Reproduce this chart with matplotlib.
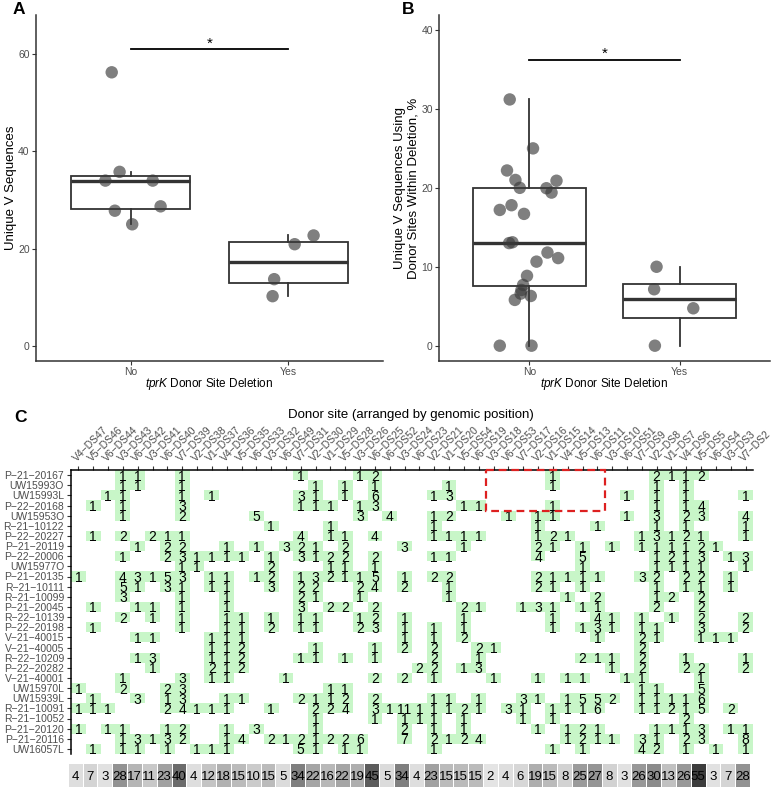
import numpy as np
import matplotlib.pyplot as plt
from matplotlib.patches import Rectangle
from matplotlib.colors import ListedColormap, LinearSegmentedColormap

plt.rcParams['font.family'] = ['Liberation Sans', 'DejaVu Sans']
plt.rcParams['mathtext.fontset'] = 'custom'
plt.rcParams['mathtext.it'] = 'Liberation Sans:italic'
plt.rcParams['mathtext.rm'] = 'Liberation Sans'

# ---- panel A / B data (points as plotted, x = jitter offset) ----
a_no = [56.3, 35.8, 34.0, 34.0, 27.8, 28.7, 25.0]
a_no_jit = [-0.12, -0.07, -0.16, 0.14, -0.10, 0.19, 0.01]
a_yes = [22.7, 20.9, 13.7, 10.2]
a_yes_jit = [0.16, 0.04, -0.09, -0.10]

b_no = [31.2, 25.0, 22.2, 21.0, 20.0, 20.9, 19.95, 19.4, 17.2, 17.8, 16.7, 13.0,
        13.1, 11.8, 11.1, 10.65, 8.85, 7.7, 7.06, 6.6, 6.3, 5.8, 0.0, 0.0]
b_no_jit = [-0.13, 0.025, -0.148, -0.092, -0.063, 0.181, 0.114, 0.148, -0.196, -0.118,
            -0.035, -0.134, -0.112, 0.121, 0.192, 0.048, -0.015, -0.041, -0.052, -0.057,
            0.01, -0.096, -0.196, 0.015]
b_yes = [10.0, 7.15, 4.74, 0.0]
b_yes_jit = [-0.154, -0.17, 0.09, -0.165]

groups = ["No", "Yes"]

# ---- panel C data ----
site_labels = ["V4-DS47", "V5-DS46", "V6-DS44", "V3-DS43", "V6-DS42", "V3-DS41", "V6-DS40",
               "V7-DS39", "V2-DS38", "V1-DS37", "V4-DS36", "V5-DS35", "V6-DS33", "V3-DS32",
               "V6-DS49", "V7-DS31", "V2-DS30", "V1-DS29", "V5-DS28", "V3-DS26", "V6-DS25",
               "V6-DS52", "V3-DS24", "V6-DS23", "V2-DS21", "V1-DS20", "V5-DS54", "V6-DS19",
               "V3-DS18", "V6-DS53", "V7-DS17", "V2-DS16", "V1-DS15", "V4-DS14", "V5-DS13",
               "V6-DS11", "V3-DS10", "V6-DS51", "V7-DS9", "V2-DS8", "V1-DS7", "V4-DS6",
               "V5-DS5", "V6-DS4", "V3-DS3", "V7-DS2"]

site_totals = [4, 7, 3, 28, 17, 11, 23, 40, 4, 12, 18, 15, 10, 15, 5, 34, 22, 16, 22, 19,
               45, 5, 34, 4, 23, 15, 15, 15, 2, 4, 6, 19, 15, 8, 25, 27, 8, 3, 26, 30,
               13, 26, 55, 3, 7, 28]

samples = ["P-21-20167", "UW15993O", "UW15993L", "P-22-20168", "UW15953O", "R-21-10122",
           "P-22-20227", "P-21-20119", "P-22-20006", "UW15977O", "P-21-20135", "R-21-10111",
           "R-21-10099", "P-21-20045", "R-22-10139", "P-22-20198", "V-21-40015", "V-21-40005",
           "R-22-10209", "P-22-20282", "V-21-40001", "UW15970L", "UW15939L", "R-21-10091",
           "R-21-10052", "P-21-20120", "P-21-20116", "UW16057L"]

# counts per sample: {donor site column (1-based): count}
cells = {
    "P-21-20167": {4: 1, 5: 1, 8: 1, 16: 1, 20: 1, 21: 2, 33: 1, 40: 2, 41: 1, 42: 1, 43: 2},
    "UW15993O": {4: 1, 5: 1, 8: 1, 17: 1, 19: 1, 21: 1, 26: 1, 33: 1, 40: 1, 42: 1},
    "UW15993L": {3: 1, 4: 1, 8: 1, 10: 1, 16: 3, 17: 1, 19: 1, 21: 6, 25: 1, 26: 3, 38: 1,
                 40: 1, 42: 1, 46: 1},
    "P-22-20168": {2: 1, 4: 1, 8: 3, 16: 1, 17: 1, 18: 1, 20: 1, 21: 3, 27: 1, 28: 1, 33: 1,
                   40: 1, 42: 1, 43: 4},
    "UW15953O": {4: 1, 8: 2, 13: 5, 20: 3, 22: 4, 25: 1, 26: 2, 30: 1, 32: 1, 33: 1, 38: 1,
                 40: 3, 42: 2, 43: 3, 46: 4},
    "R-21-10122": {14: 1, 18: 1, 25: 1, 32: 1, 36: 1, 40: 1, 42: 1, 46: 1},
    "P-22-20227": {2: 1, 4: 2, 6: 2, 7: 1, 8: 1, 16: 4, 18: 1, 19: 1, 21: 4, 25: 1, 26: 1,
                   27: 1, 28: 1, 32: 1, 33: 2, 34: 1, 39: 1, 40: 3, 41: 1, 42: 2, 43: 1, 46: 1},
    "P-21-20119": {5: 1, 7: 2, 8: 2, 11: 1, 13: 1, 15: 3, 16: 2, 17: 1, 19: 2, 23: 3, 27: 1,
                   32: 2, 33: 1, 35: 1, 37: 1, 39: 1, 40: 1, 41: 1, 42: 1, 43: 2, 44: 1},
    "P-22-20006": {4: 1, 7: 2, 8: 3, 9: 1, 10: 1, 11: 1, 12: 1, 14: 1, 16: 3, 17: 1, 18: 2,
                   19: 2, 21: 2, 25: 1, 26: 1, 32: 4, 35: 5, 40: 1, 41: 2, 42: 1, 43: 3, 45: 1,
                   46: 3},
    "UW15977O": {8: 1, 9: 1, 14: 2, 18: 1, 19: 1, 21: 1, 35: 1, 40: 1, 41: 1, 42: 1, 43: 1,
                 46: 1},
    "P-21-20135": {1: 1, 4: 4, 5: 3, 6: 1, 7: 5, 8: 3, 10: 1, 11: 1, 13: 1, 14: 2, 16: 1,
                   17: 3, 18: 2, 19: 1, 20: 1, 21: 5, 23: 1, 25: 2, 26: 2, 32: 2, 33: 1, 34: 1,
                   35: 1, 36: 1, 39: 3, 40: 2, 42: 2, 43: 2, 45: 1},
    "R-21-10111": {4: 5, 5: 1, 7: 3, 8: 1, 10: 1, 11: 1, 14: 3, 16: 2, 17: 2, 20: 2, 21: 4,
                   23: 2, 26: 1, 32: 2, 33: 1, 35: 1, 40: 1, 42: 1, 43: 1, 45: 1},
    "R-21-10099": {4: 3, 8: 1, 11: 1, 16: 2, 17: 1, 20: 1, 26: 1, 34: 1, 36: 2, 40: 1, 41: 2,
                   43: 2},
    "P-21-20045": {2: 1, 5: 1, 6: 1, 8: 1, 11: 1, 16: 3, 18: 2, 19: 2, 21: 2, 27: 2, 28: 1,
                   31: 1, 32: 3, 33: 1, 35: 1, 36: 1, 40: 2, 43: 2},
    "R-22-10139": {4: 2, 6: 1, 8: 1, 11: 1, 12: 1, 14: 1, 16: 1, 17: 1, 20: 1, 21: 2, 23: 1,
                   27: 1, 33: 1, 36: 4, 37: 1, 39: 1, 41: 1, 43: 2, 46: 2},
    "P-22-20198": {2: 1, 8: 1, 11: 1, 12: 1, 14: 2, 16: 1, 17: 1, 20: 2, 21: 3, 23: 1, 25: 1,
                   27: 1, 33: 1, 35: 1, 36: 3, 37: 1, 39: 1, 40: 1, 43: 3, 46: 2},
    "V-21-40015": {5: 1, 6: 1, 10: 1, 11: 1, 12: 1, 23: 1, 25: 1, 27: 2, 36: 1, 39: 2, 40: 1,
                   43: 1, 44: 1, 45: 1},
    "V-21-40005": {10: 1, 11: 1, 12: 2, 17: 1, 21: 1, 23: 2, 25: 2, 28: 2, 29: 1, 39: 2},
    "R-22-10209": {5: 1, 6: 3, 10: 1, 11: 1, 12: 2, 16: 1, 17: 1, 19: 1, 21: 1, 25: 2, 28: 1,
                   35: 2, 36: 1, 37: 1, 39: 2, 42: 1, 46: 1},
    "P-22-20282": {6: 1, 10: 2, 11: 1, 12: 2, 24: 2, 25: 2, 27: 1, 28: 3, 37: 1, 39: 2, 42: 2,
                   43: 2, 46: 2},
    "V-21-40001": {4: 1, 8: 3, 10: 1, 11: 1, 15: 1, 21: 2, 23: 2, 25: 1, 29: 1, 32: 1, 34: 1,
                   35: 1, 38: 1, 39: 1, 43: 1},
    "UW15970L": {1: 1, 4: 2, 7: 2, 8: 3, 18: 1, 19: 1, 39: 1, 40: 1, 43: 5},
    "UW15939L": {2: 1, 5: 3, 7: 1, 8: 3, 11: 1, 12: 1, 16: 2, 17: 1, 18: 1, 19: 2, 21: 2,
                 25: 1, 26: 1, 28: 1, 31: 3, 32: 1, 34: 1, 35: 5, 36: 5, 37: 2, 39: 1, 40: 1,
                 41: 1, 42: 1, 43: 6},
    "R-21-10091": {1: 1, 2: 1, 3: 1, 7: 2, 8: 4, 9: 1, 10: 1, 11: 1, 14: 1, 17: 2, 18: 2,
                   19: 4, 21: 3, 22: 1, 23: 11, 24: 1, 25: 1, 26: 1, 27: 2, 28: 1, 30: 3,
                   31: 1, 33: 1, 34: 1, 35: 1, 36: 6, 39: 1, 40: 1, 41: 2, 42: 1, 43: 5, 45: 2},
    "R-21-10052": {17: 1, 21: 1, 23: 1, 24: 1, 25: 1, 27: 1, 31: 1, 33: 1, 42: 2},
    "P-21-20120": {1: 1, 3: 1, 4: 1, 7: 1, 8: 2, 11: 1, 13: 3, 17: 1, 23: 2, 25: 1, 27: 1,
                   32: 1, 34: 1, 35: 2, 36: 1, 40: 1, 41: 1, 42: 1, 43: 3, 45: 1, 46: 1},
    "P-21-20116": {4: 1, 5: 3, 6: 1, 7: 3, 8: 2, 11: 1, 12: 4, 14: 2, 15: 1, 16: 2, 17: 1,
                   18: 2, 19: 2, 20: 6, 23: 7, 25: 2, 26: 1, 27: 2, 28: 4, 34: 1, 35: 2, 36: 1,
                   37: 1, 39: 3, 40: 1, 42: 2, 43: 3, 46: 8},
    "UW16057L": {2: 1, 4: 1, 5: 1, 7: 1, 9: 1, 10: 1, 11: 1, 16: 5, 17: 1, 19: 1, 20: 1,
                 25: 1, 33: 1, 35: 1, 39: 4, 40: 2, 42: 1, 44: 1, 46: 1},
}

W, H = 780, 789
fig = plt.figure(figsize=(W / 100, H / 100), dpi=100)


def px(l, t, r, b):
    return [l / W, 1 - b / H, (r - l) / W, (b - t) / H]


tick_grey = "#4d4d4d"
line_col = "#333333"


def box_panel(ax, vals, jits, ylim, yticks, ylabel, sig_y, ylab_x):
    ax.boxplot(vals, positions=[1, 2], widths=0.75, showfliers=False, showcaps=False,
               patch_artist=True,
               boxprops=dict(facecolor="white", edgecolor=line_col, linewidth=1.3),
               whiskerprops=dict(color=line_col, linewidth=1.3),
               medianprops=dict(color=line_col, linewidth=2.4))
    for k, (v, j) in enumerate(zip(vals, jits)):
        ax.scatter(np.array(j) + k + 1, v, s=80, color="#3a3a3a", alpha=0.65,
                   edgecolors="none", zorder=5)
    ax.plot([1, 2], [sig_y, sig_y], color="black", lw=1.3)
    ax.text(1.5, sig_y + 0.005 * (ylim[1] - ylim[0]), "*", ha="center", va="baseline",
            fontsize=11)
    ax.set_xlim(0.4, 2.6)
    ax.set_ylim(*ylim)
    ax.set_yticks(yticks)
    ax.set_xticks([1, 2])
    ax.set_xticklabels(groups)
    for s in ["top", "right"]:
        ax.spines[s].set_visible(False)
    for s in ["left", "bottom"]:
        ax.spines[s].set_color(line_col)
        ax.spines[s].set_linewidth(1.1)
    ax.tick_params(colors=line_col, labelcolor=tick_grey, labelsize=7.5, length=3, width=0.8,
                   pad=1.5)
    ax.set_xlabel(r"$\it{tprK}$ Donor Site Deletion", fontsize=8.5)
    ax.xaxis.label.set_verticalalignment("center")
    ax.xaxis.set_label_coords(0.5, -0.066)
    ax.set_ylabel(ylabel, fontsize=9.5)
    ax.yaxis.label.set_verticalalignment("center")
    ax.yaxis.set_label_coords(ylab_x, 0.5)


axA = fig.add_axes(px(36, 15, 383, 361))
box_panel(axA, [a_no, a_yes], [a_no_jit, a_yes_jit], (-3.15, 68.1), [0, 20, 40, 60],
          "Unique V Sequences", 61.0, -0.072)

axB = fig.add_axes(px(439, 15, 770, 361))
box_panel(axB, [b_no, b_yes], [b_no_jit, b_yes_jit], (-1.94, 41.9), [0, 10, 20, 30, 40],
          "Unique V Sequences Using\nDonor Sites Within Deletion, %", 36.2, -0.097)

fig.text(13 / W, 1 - 10 / H, "A", fontsize=12.5, fontweight="bold", va="center")
fig.text(402 / W, 1 - 10 / H, "B", fontsize=12.5, fontweight="bold", va="center")
fig.text(14 / W, 1 - 418 / H, "C", fontsize=12.5, fontweight="bold", va="center")
fig.text(411 / W, 1 - 415 / H, "Donor site (arranged by genomic position)", fontsize=9.5,
         ha="center", va="center")

# ---- heatmap ----
mat = np.zeros((len(samples), len(site_labels)))
for i, s in enumerate(samples):
    for c, v in cells[s].items():
        mat[i, c - 1] = v

axC = fig.add_axes(px(71, 470, 753, 754))
axC.pcolormesh(np.arange(len(site_labels) + 1) - 0.5, np.arange(len(samples) + 1) - 0.5,
               np.ma.masked_equal(mat, 0), cmap=ListedColormap(["#c8f6c8"]), shading="flat")
for i, j in zip(*np.nonzero(mat)):
    axC.text(j, i, str(int(mat[i, j])), ha="center", va="center_baseline", fontsize=10)
axC.set_xlim(-0.5, len(site_labels) - 0.5)
axC.set_ylim(len(samples) - 0.5, -0.5)
axC.xaxis.tick_top()
axC.set_xticks(range(len(site_labels)))
axC.set_xticklabels([s.replace("-", "\u2212") for s in site_labels], rotation=45,
                    ha="left", va="bottom", rotation_mode="anchor")
axC.set_yticks(range(len(samples)))
axC.set_yticklabels([s.replace("-", "\u2212") for s in samples])
axC.tick_params(colors=line_col, labelcolor=tick_grey, labelsize=7.5, length=3, width=0.8,
                pad=2)
for s in ["bottom", "right"]:
    axC.spines[s].set_visible(False)
for s in ["top", "left"]:
    axC.spines[s].set_color("black")
    axC.spines[s].set_linewidth(1.1)

# deleted region box
axC.add_patch(Rectangle((27.5, -0.5), 8, 4, fill=False, edgecolor="#dd2020", lw=1.6,
                        ls=(0, (3.5, 2.2)), clip_on=False, zorder=6))

# ---- totals row ----
axS = fig.add_axes(px(67.7, 763, 750, 787))
greys = LinearSegmentedColormap.from_list("tot", ["#e4e4e4", "#3c3c3c"])
axS.pcolormesh(np.arange(len(site_totals) + 1) - 0.5, [-0.5, 0.5], np.array([site_totals]),
               cmap=greys, vmin=min(site_totals), vmax=max(site_totals),
               edgecolors="white", linewidth=0.6)
for j, t in enumerate(site_totals):
    axS.text(j, 0, str(t), ha="center", va="center_baseline", fontsize=9.5)
axS.set_xlim(-0.5, len(site_totals) - 0.5)
axS.set_ylim(-0.5, 0.5)
axS.axis("off")

fig.savefig("out.png", dpi=100)
